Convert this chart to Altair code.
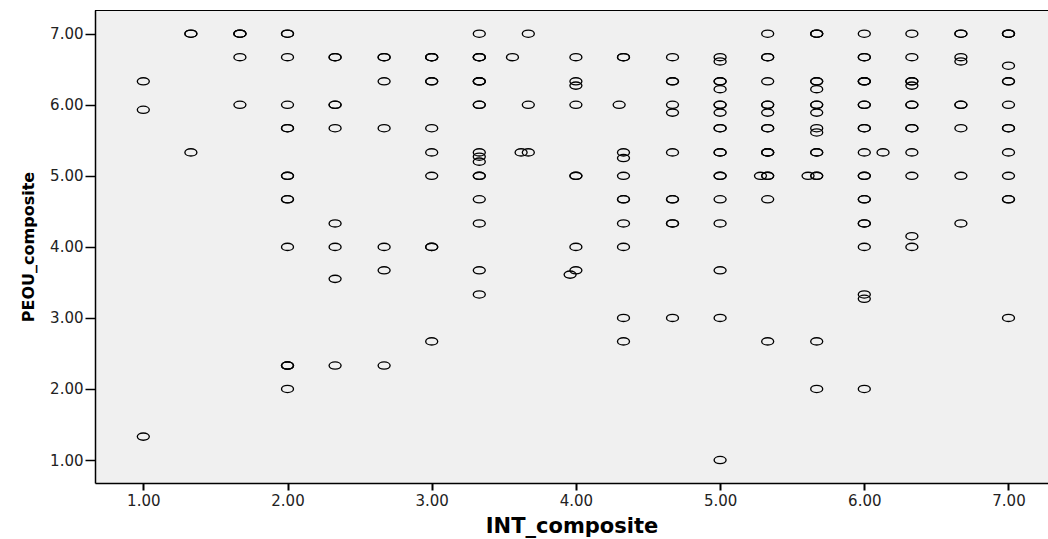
import altair as alt
import pandas as pd

# INT_composite (x) and PEOU_composite (y) values.
# Overlapping observations are repeated.
int_values = [
    1.00, 1.00, 1.00,
    1.33, 1.33, 1.33,
    1.67, 1.67, 1.67, 1.67, 1.67,
    2.00, 2.00, 2.00, 2.00, 2.00, 2.00, 2.00, 2.00, 2.00, 2.00, 2.00, 2.00, 2.00, 2.00, 2.00,
    2.33, 2.33, 2.33, 2.33, 2.33, 2.33, 2.33, 2.33, 2.33,
    2.67, 2.67, 2.67, 2.67, 2.67, 2.67, 2.67,
    3.00, 3.00, 3.00, 3.00, 3.00, 3.00, 3.00, 3.00, 3.00, 3.00, 3.00,
    3.33, 3.33, 3.33, 3.33, 3.33, 3.33, 3.33, 3.33, 3.33, 3.33, 3.33, 3.33, 3.33, 3.33, 3.33, 3.33, 3.33, 3.33,
    3.56,
    3.62, 3.67, 3.67, 3.67,
    3.96,
    4.00, 4.00, 4.00, 4.00, 4.00, 4.00, 4.00, 4.00,
    4.30,
    4.33, 4.33, 4.33, 4.33, 4.33, 4.33, 4.33, 4.33, 4.33, 4.33, 4.33,
    4.67, 4.67, 4.67, 4.67, 4.67, 4.67, 4.67, 4.67, 4.67, 4.67, 4.67,
    5.00, 5.00, 5.00, 5.00, 5.00, 5.00, 5.00, 5.00, 5.00, 5.00, 5.00, 5.00, 5.00, 5.00, 5.00, 5.00, 5.00, 5.00, 5.00,
    5.28,
    5.33, 5.33, 5.33, 5.33, 5.33, 5.33, 5.33, 5.33, 5.33, 5.33, 5.33, 5.33, 5.33, 5.33, 5.33, 5.33,
    5.61,
    5.67, 5.67, 5.67, 5.67, 5.67, 5.67, 5.67, 5.67, 5.67, 5.67, 5.67, 5.67, 5.67, 5.67, 5.67, 5.67, 5.67,
    6.00, 6.00, 6.00, 6.00, 6.00, 6.00, 6.00, 6.00, 6.00, 6.00, 6.00, 6.00, 6.00, 6.00, 6.00, 6.00, 6.00, 6.00, 6.00, 6.00, 6.00,
    6.13,
    6.33, 6.33, 6.33, 6.33, 6.33, 6.33, 6.33, 6.33, 6.33, 6.33, 6.33, 6.33, 6.33,
    6.67, 6.67, 6.67, 6.67, 6.67, 6.67, 6.67, 6.67, 6.67,
    7.00, 7.00, 7.00, 7.00, 7.00, 7.00, 7.00, 7.00, 7.00, 7.00, 7.00, 7.00, 7.00, 7.00,
]
peou_values = [
    6.33, 5.93, 1.33,
    7.00, 7.00, 5.33,
    7.00, 7.00, 7.00, 6.67, 6.00,
    7.00, 7.00, 6.67, 6.00, 5.67, 5.67, 5.00, 5.00, 4.67, 4.67, 4.00, 2.33, 2.33, 2.33, 2.00,
    6.67, 6.67, 6.00, 6.00, 5.67, 4.33, 4.00, 3.55, 2.33,
    6.67, 6.67, 6.33, 5.67, 4.00, 3.67, 2.33,
    6.67, 6.67, 6.33, 6.33, 5.67, 5.33, 5.00, 4.00, 4.00, 2.67, 6.67,
    7.00, 6.67, 6.67, 6.67, 6.33, 6.33, 6.33, 6.00, 6.00, 5.33, 5.27, 5.20, 5.00, 5.00, 4.67, 4.33, 3.67, 3.33,
    6.67,
    5.33, 7.00, 6.00, 5.33,
    3.61,
    6.67, 6.33, 6.27, 6.00, 5.00, 5.00, 4.00, 3.67,
    6.00,
    6.67, 6.67, 5.33, 5.25, 5.00, 4.67, 4.67, 4.33, 4.00, 3.00, 2.67,
    6.67, 6.33, 6.33, 6.00, 5.89, 5.33, 4.67, 4.67, 4.33, 4.33, 3.00,
    6.67, 6.61, 6.33, 6.33, 6.22, 6.00, 6.00, 5.89, 5.67, 5.67, 5.33, 5.33, 5.00, 5.00, 4.67, 4.33, 3.67, 3.00, 1.00,
    5.00,
    7.00, 6.67, 6.67, 6.33, 6.00, 6.00, 5.89, 5.67, 5.67, 5.33, 5.33, 5.33, 5.00, 5.00, 4.67, 2.67,
    5.00,
    7.00, 7.00, 7.00, 6.33, 6.33, 6.22, 6.00, 6.00, 5.89, 5.67, 5.61, 5.33, 5.33, 5.00, 5.00, 2.67, 2.00,
    7.00, 6.67, 6.67, 6.33, 6.33, 6.33, 6.00, 6.00, 5.67, 5.67, 5.33, 5.00, 5.00, 4.67, 4.67, 4.33, 4.33, 4.00, 3.33, 3.27, 2.00,
    5.33,
    7.00, 6.67, 6.33, 6.33, 6.27, 6.00, 6.00, 5.67, 5.67, 5.33, 5.00, 4.15, 4.00,
    7.00, 7.00, 6.67, 6.61, 6.00, 6.00, 5.67, 5.00, 4.33,
    7.00, 7.00, 7.00, 6.55, 6.33, 6.33, 6.00, 5.67, 5.67, 5.33, 5.00, 4.67, 4.67, 3.00,
]
tick_values = [1, 2, 3, 4, 5, 6, 7]

n = min(len(int_values), len(peou_values))
df = pd.DataFrame({"INT_composite": int_values[:n], "PEOU_composite": peou_values[:n]})

W, H = 953, 473
ellipse = "M -1 0 A 1 0.6 0 1 1 1 0 A 1 0.6 0 1 1 -1 0 Z"

points = alt.Chart(df).mark_point(
    shape=ellipse, size=144, filled=False, stroke="black",
    strokeWidth=1.35, opacity=1, clip=True
).encode(
    x=alt.X("INT_composite:Q",
            scale=alt.Scale(domain=[0.665, 7.274], nice=False, zero=False),
            axis=alt.Axis(values=tick_values, format=".2f", grid=False,
                          title="INT_composite", tickSize=7, tickWidth=2,
                          labelPadding=3, titleBaseline="alphabetic", titleY=49,
                          titleFontSize=21)),
    y=alt.Y("PEOU_composite:Q",
            scale=alt.Scale(domain=[0.677, 7.334], nice=False, zero=False),
            axis=alt.Axis(values=tick_values, format=".2f", grid=False,
                          title="PEOU_composite", tickSize=10, tickWidth=1.5,
                          labelPadding=2, titleBaseline="alphabetic", titleX=-62,
                          titleFontSize=16)),
)

top_line = alt.Chart(pd.DataFrame({"a": [0]})).mark_rule(
    color="black", strokeWidth=1
).encode(x=alt.value(0), x2=alt.value(W), y=alt.value(0.5))

chart = alt.layer(points, top_line).properties(
    width=W, height=H,
    autosize="none",
    padding={"left": 95, "top": 10, "right": 0, "bottom": 56},
    background="white",
).configure_view(
    fill="#f0f0f0", stroke=None
).configure_axis(
    domainColor="black", domainWidth=1.5, tickColor="black",
    labelFont="DejaVu Sans", labelFontSize=15, labelColor="#222",
    titleFont="DejaVu Sans", titleFontWeight="bold", titleColor="black",
)

chart.save("out.html", embed_options={"renderer": "svg", "actions": False})
